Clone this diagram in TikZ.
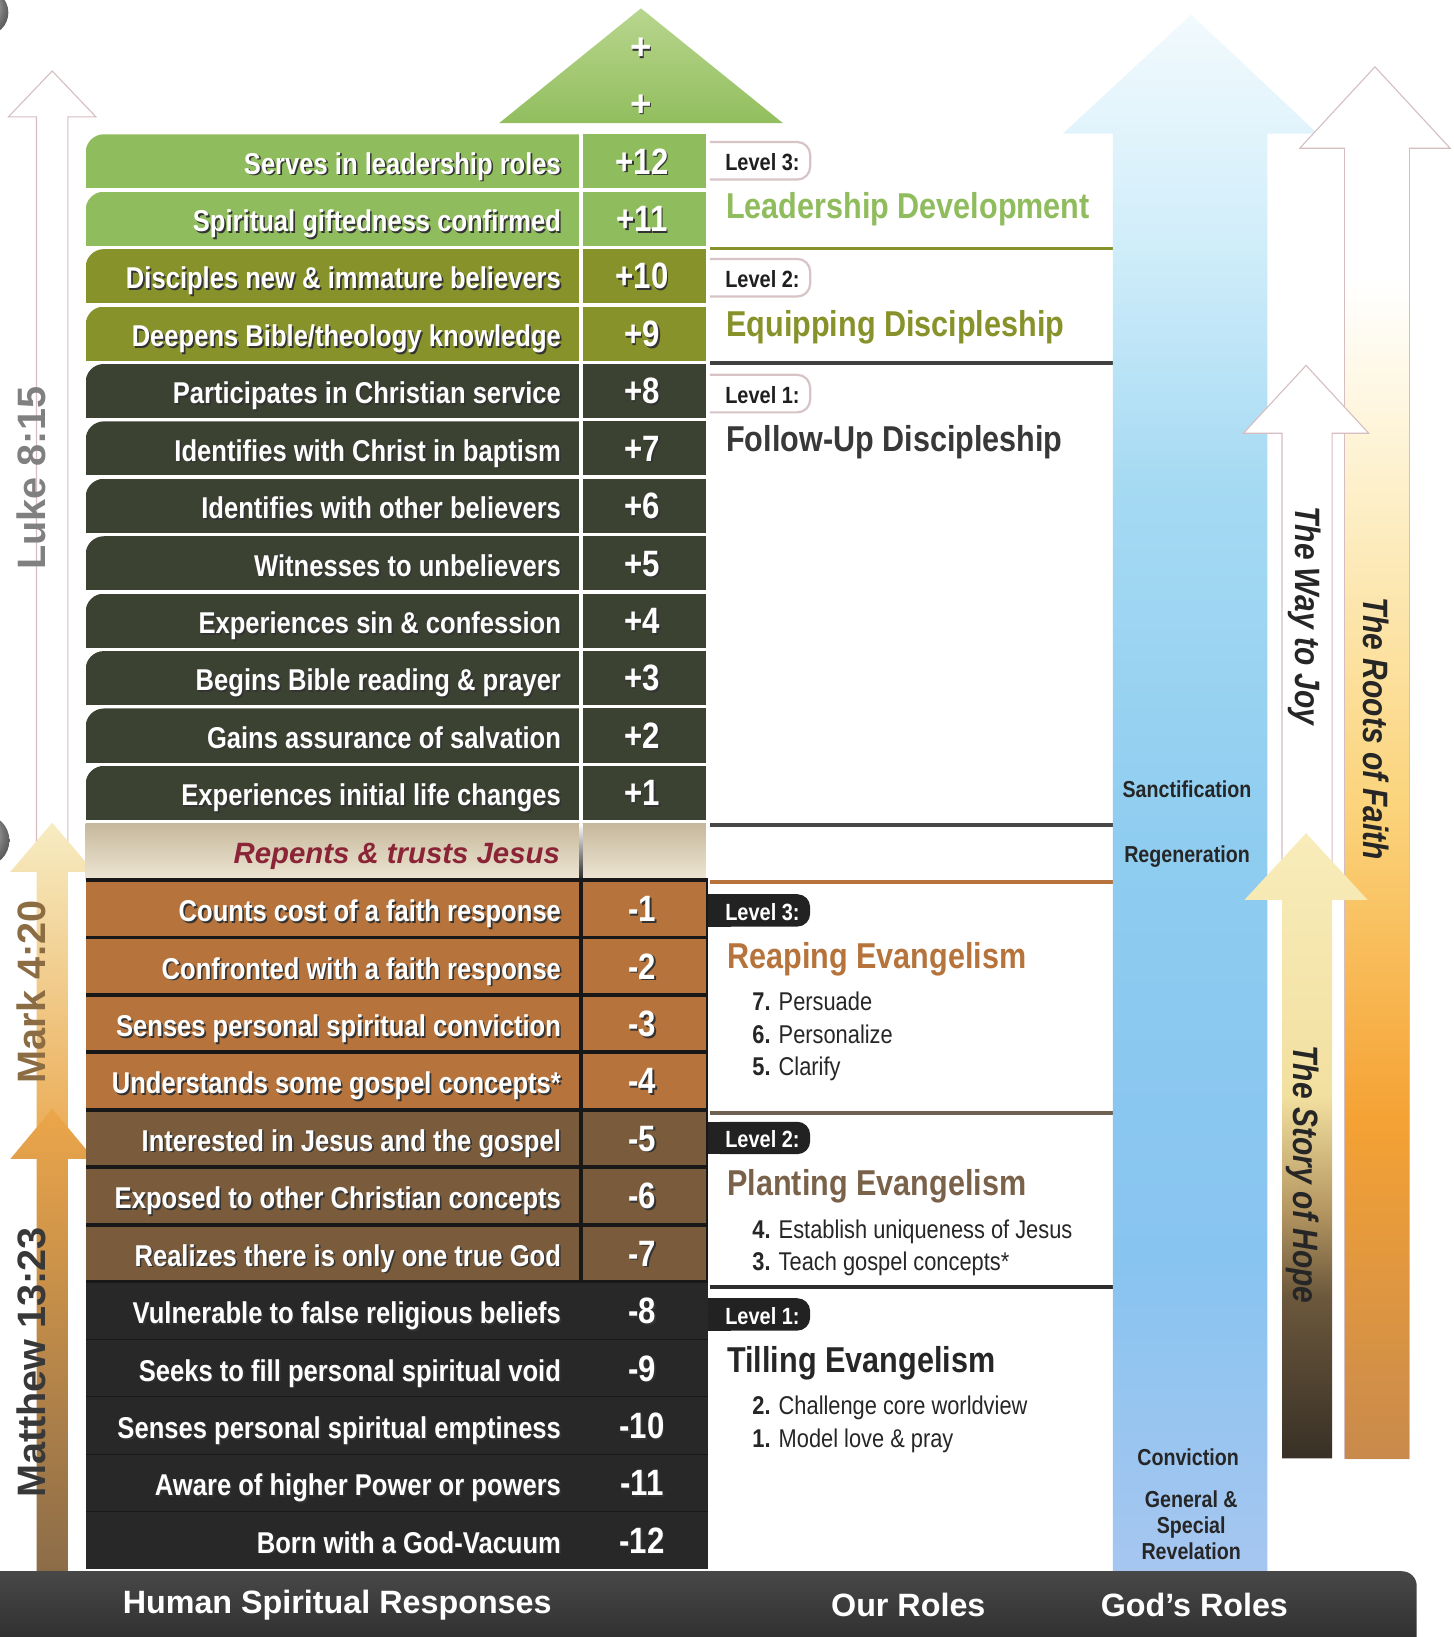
\documentclass[tikz,border=0pt]{standalone}
\usepackage{fontspec}
\setmainfont{Liberation Sans}
\newfontfamily\condfont{Liberation Sans}[FakeStretch=0.85]

\definecolor{lgreen}{RGB}{143,188,92}
\definecolor{olivec}{RGB}{136,146,42}
\definecolor{dgreen}{RGB}{60,66,50}
\definecolor{rust}{RGB}{182,116,60}
\definecolor{brownc}{RGB}{122,92,60}
\definecolor{charc}{RGB}{40,40,40}
\definecolor{sepblack}{RGB}{24,24,24}
\definecolor{repA}{RGB}{198,184,156}
\definecolor{repB}{RGB}{238,230,212}
\definecolor{repred}{RGB}{138,36,54}
\definecolor{plantc}{RGB}{122,98,74}
\definecolor{plantline}{RGB}{110,96,82}
\definecolor{markc}{RGB}{140,108,66}
\definecolor{tabdark}{RGB}{34,34,34}
\definecolor{tabline}{RGB}{216,196,198}
\definecolor{arrowline}{RGB}{214,190,192}
\definecolor{trA}{RGB}{184,214,142}
\definecolor{trB}{RGB}{146,190,94}
\definecolor{markA}{RGB}{247,236,194}
\definecolor{markB}{RGB}{234,168,80}
\definecolor{mattA}{RGB}{236,166,74}
\definecolor{mattB}{RGB}{140,108,72}
\definecolor{barA}{RGB}{72,72,72}
\definecolor{barB}{RGB}{30,30,30}
% God's roles column
\definecolor{blueT}{RGB}{242,250,253}
\definecolor{blueA}{RGB}{210,238,250}
\definecolor{blueB}{RGB}{166,218,243}
\definecolor{blueC}{RGB}{142,204,240}
\definecolor{blueD}{RGB}{136,196,240}
\definecolor{blueE}{RGB}{166,198,240}
% roots and hope arrows
\definecolor{rootsA}{RGB}{253,240,202}
\definecolor{rootsB}{RGB}{251,212,124}
\definecolor{rootsC}{RGB}{245,162,52}
\definecolor{rootsD}{RGB}{200,138,76}
\definecolor{hopeA}{RGB}{248,236,186}
\definecolor{hopeB}{RGB}{242,224,160}
\definecolor{hopeC}{RGB}{182,152,98}
\definecolor{hopeD}{RGB}{108,88,60}
\definecolor{hopeE}{RGB}{56,48,38}

\pgfdeclareverticalshading{blueshade}{100bp}{color(0bp)=(blueE); color(25bp)=(blueE);
  color(35bp)=(blueD); color(48bp)=(blueC); color(60bp)=(blueB); color(68bp)=(blueA);
  color(75bp)=(blueT); color(100bp)=(blueT)}
\pgfdeclareverticalshading{rootsshade}{100bp}{color(0bp)=(rootsD); color(25bp)=(rootsD);
  color(38bp)=(rootsC); color(50bp)=(rootsB); color(62bp)=(rootsA); color(70bp)=(white);
  color(100bp)=(white)}
\pgfdeclareverticalshading{hopeshade}{100bp}{color(0bp)=(hopeE); color(25bp)=(hopeE);
  color(38bp)=(hopeD); color(45bp)=(hopeC); color(54bp)=(hopeB); color(75bp)=(hopeA);
  color(100bp)=(hopeA)}

\newcommand{\shadowed}[1]{\makebox[0pt][l]{\hspace{0.45pt}\raisebox{-0.45pt}{\textcolor{black!80}{#1}}}#1}

\begin{document}
\begin{tikzpicture}[x=0.1mm,y=-0.1mm]
    \tikzset{
      rowtext/.style={anchor=mid east,inner sep=0pt,text=white,font=\condfont\bfseries\fontsize{8.2}{9}\selectfont},
      numtext/.style={anchor=mid,inner sep=0pt,text=white,font=\condfont\bfseries\fontsize{10}{11}\selectfont},
      leveltab/.style={anchor=mid west,inner sep=0pt,font=\condfont\bfseries\fontsize{6.4}{7}\selectfont},
      headline/.style={anchor=mid west,inner sep=0pt,font=\condfont\bfseries\fontsize{9.8}{11}\selectfont},
      steptext/.style={anchor=mid west,inner sep=0pt,text=black!85,font=\condfont\fontsize{7}{8}\selectfont},
      godtext/.style={inner sep=0pt,text=black!85,align=center,font=\condfont\bfseries\fontsize{6.3}{7.2}\selectfont},
      versetext/.style={rotate=90,inner sep=0pt,font=\bfseries\fontsize{10.8}{12}\selectfont},
      pathtext/.style={rotate=-90,inner sep=0pt,text=black!85,font=\condfont\bfseries\itshape\fontsize{9.6}{11}\selectfont},
      foottext/.style={inner sep=0pt,text=white,font=\bfseries\fontsize{8.8}{10}\selectfont},
      hollow/.style={fill=white,draw=arrowline,line width=0.3pt},
    }
    \useasboundingbox (0,0) rectangle (1392,1568);
    \fill[white] (0,0) rectangle (1392,1568);

    % punch holes
    \shade[ball color=black!12] (-14,12) circle (22);
    \shade[ball color=black!12] (-16,805) circle (25);

    % left verse arrows
    \draw[hollow] (35,835) -- (35,112) -- (8,112) -- (50,68) -- (92,112) -- (65,112) -- (65,835);
    \shade[top color=markA,bottom color=markB] (35,1110) -- (35,835) -- (10,835) -- (50,788)
      -- (90,835) -- (65,835) -- (65,1110) -- cycle;
    \shade[top color=mattA,bottom color=mattB] (35,1505) -- (35,1110) -- (10,1110) -- (50,1062)
      -- (90,1110) -- (65,1110) -- (65,1505) -- cycle;
    \node[versetext,text=black!50] (luke) at (30,458) {Luke 8:15};
    \node[versetext,text=markc] (mark) at (30,950) {Mark 4:20};
    \node[versetext,text=black!78] (matt) at (30,1305) {Matthew 13:23};

    % green roof
    \shade[top color=trA,bottom color=trB] (478,118) -- (614,8) -- (750,118) -- cycle;
    \node[numtext,font=\bfseries\fontsize{10}{11}\selectfont] (plusA) at (614,48) {\shadowed{+}};
    \node[numtext,font=\bfseries\fontsize{10}{11}\selectfont] (plusB) at (614,102) {\shadowed{+}};

    % positive responses
    \foreach \i/\lab/\num/\col in {0/{Serves in leadership roles}/+12/lgreen,
        1/{Spiritual giftedness confirmed}/+11/lgreen,
        2/{Disciples new \& immature believers}/+10/olivec,
        3/{Deepens Bible/theology knowledge}/+9/olivec,
        4/{Participates in Christian service}/+8/dgreen,
        5/{Identifies with Christ in baptism}/+7/dgreen,
        6/{Identifies with other believers}/+6/dgreen,
        7/{Witnesses to unbelievers}/+5/dgreen,
        8/{Experiences sin \& confession}/+4/dgreen,
        9/{Begins Bible reading \& prayer}/+3/dgreen,
        10/{Gains assurance of salvation}/+2/dgreen,
        11/{Experiences initial life changes}/+1/dgreen} {
      \pgfmathsetmacro\ya{127+\i*55+1.6}
      \pgfmathsetmacro\yb{127+(\i+1)*55-1.6}
      \pgfmathsetmacro\yc{130+(\i+0.5)*55}
      \begin{scope}
        \clip[rounded corners=5pt] (82,\ya) rectangle (900,1000);
        \fill[\col] (82,\ya) rectangle (555,\yb);
      \end{scope}
      \fill[\col] (558,\ya) rectangle (676,\yb);
      \node[rowtext] (resp\i) at (538,\yc) {\shadowed{\lab}};
      \node[numtext] (num\i) at (615,\yc) {\shadowed{\num}};
    }

    % turning point
    \shade[top color=repA,bottom color=repB] (82,788.6) rectangle (676,843);
    \shade[top color=white,bottom color=black!85] (555,788.6) rectangle (558,843);
    \node[anchor=mid east,inner sep=0pt,text=repred,font=\bfseries\itshape\fontsize{8}{9}\selectfont]
      (resp12) at (537,817.5) {Repents \& trusts Jesus};

    % negative responses
    \fill[sepblack] (82,841) rectangle (678,1503);
    \foreach \i/\lab/\num/\col in {13/{Counts cost of a faith response}/-1/rust,
        14/{Confronted with a faith response}/-2/rust,
        15/{Senses personal spiritual conviction}/-3/rust,
        16/{Understands some gospel concepts*}/-4/rust,
        17/{Interested in Jesus and the gospel}/-5/brownc,
        18/{Exposed to other Christian concepts}/-6/brownc,
        19/{Realizes there is only one true God}/-7/brownc} {
      \pgfmathsetmacro\ya{128+\i*55+1.8}
      \pgfmathsetmacro\yb{128+(\i+1)*55-1.8}
      \pgfmathsetmacro\yc{131+(\i+0.5)*55}
      \fill[\col] (82,\ya) rectangle (555,\yb);
      \fill[\col] (558.5,\ya) rectangle (676,\yb);
      \node[rowtext] (resp\i) at (538,\yc) {\shadowed{\lab}};
      \node[numtext] (num\i) at (615,\yc) {\shadowed{\num}};
    }
    \foreach \i/\lab/\num in {20/{Vulnerable to false religious beliefs}/-8,
        21/{Seeks to fill personal spiritual void}/-9,
        22/{Senses personal spiritual emptiness}/-10,
        23/{Aware of higher Power or powers}/-11,
        24/{Born with a God-Vacuum}/-12} {
      \pgfmathsetmacro\ya{128+\i*55+0.5}
      \pgfmathsetmacro\yb{128+(\i+1)*55-0.5}
      \pgfmathsetmacro\yc{131+(\i+0.5)*55}
      \fill[charc] (82,\ya) rectangle (678,\yb);
      \node[rowtext] (resp\i) at (538,\yc) {\shadowed{\lab}};
      \node[numtext] (num\i) at (615,\yc) {\shadowed{\num}};
    }

    % our roles: rules between stages
    \draw[line width=1pt,olivec] (680,238) -- (1068,238);
    \draw[line width=1pt,black!75] (680,348) -- (1068,348);
    \draw[line width=1pt,black!72] (680,790) -- (1068,790);
    \draw[line width=1pt,rust] (680,845) -- (1068,845);
    \draw[line width=1pt,plantline] (680,1066) -- (1068,1066);
    \draw[line width=1pt,black!82] (680,1233) -- (1068,1233);

    % discipleship tabs
    \foreach \y/\n in {154/3,266/2,377/1} {
      \draw[tabline,line width=0.6pt,rounded corners=3.5pt] (680,\y-18) -- (776,\y-18) -- (776,\y+18) -- (680,\y+18);
      \node[leveltab,text=black!88] (disc\n) at (694,\y) {Level \n:};
    }
    % evangelism tabs
    \foreach \y/\n in {872/3,1090/2,1259/1} {
      \fill[tabdark,rounded corners=3.5pt] (678,\y-15.5) -- (776,\y-15.5) -- (776,\y+15.5) -- (678,\y+15.5) -- cycle;
      \fill[tabdark] (678,\y-15.5) rectangle (700,\y+15.5);
      \node[leveltab,text=white] (evan\n) at (694,\y) {Level \n:};
    }

    \node[headline,text=lgreen] (lead) at (695,200) {Leadership Development};
    \node[headline,text=olivec] (equip) at (695,313) {Equipping Discipleship};
    \node[headline,text=black!78] (follow) at (695,423) {Follow-Up Discipleship};
    \node[headline,text=rust] (reap) at (696,918) {Reaping Evangelism};
    \node[headline,text=plantc] (plant) at (696,1136) {Planting Evangelism};
    \node[headline,text=black!85] (till) at (696,1305) {Tilling Evangelism};

    \node[steptext] (st7) at (720,959) {\textbf{7.} Persuade};
    \node[steptext] (st6) at (720,990) {\textbf{6.} Personalize};
    \node[steptext] (st5) at (720,1021) {\textbf{5.} Clarify};
    \node[steptext] (st4) at (720,1177) {\textbf{4.} Establish uniqueness of Jesus};
    \node[steptext] (st3) at (720,1208) {\textbf{3.} Teach gospel concepts*};
    \node[steptext] (st2) at (720,1346) {\textbf{2.} Challenge core worldview};
    \node[steptext] (st1) at (720,1377) {\textbf{1.} Model love \& pray};

    % God's roles
    \shade[shading=blueshade] (1066,1505) -- (1066,128) -- (1018,128) -- (1141,14) -- (1262,128)
      -- (1214,128) -- (1214,1505) -- cycle;
    \node[godtext] (sanct) at (1137,756) {Sanctification};
    \node[godtext] (regen) at (1137,820) {Regeneration};
    \node[godtext] (convic) at (1138,1396) {Conviction};
    \node[godtext] (revel) at (1141,1461) {General \&\\Special\\Revelation};

    % right arrows
    \draw[hollow] (1288,1397) -- (1288,142) -- (1245,142) -- (1317,64) -- (1389,142) -- (1350,142)
      -- (1350,1397) -- cycle;
    \shade[shading=rootsshade] (1288.6,142) rectangle (1349.4,1397);
    \draw[hollow] (1228,862) -- (1228,415) -- (1191,415) -- (1251,350) -- (1311,415) -- (1276,415)
      -- (1276,862);
    \shade[shading=hopeshade] (1228,1397) -- (1228,862) -- (1192,862) -- (1251,798) -- (1310,862)
      -- (1276,862) -- (1276,1397) -- cycle;
    \node[pathtext] (joy) at (1250,590) {The Way to Joy};
    \node[pathtext] (faith) at (1318,698) {The Roots of Faith};
    \node[pathtext] (hope) at (1248,1125) {The Story of Hope};

    % footer bar
    \shade[top color=barA,bottom color=barB,rounded corners=4pt] (-30,1505) rectangle (1357,1620);
    \node[foottext] (fhuman) at (323,1537) {Human Spiritual Responses};
    \node[foottext] (fours) at (870,1537) {Our Roles};
    \node[foottext] (fgods) at (1144,1537) {God’s Roles};
\end{tikzpicture}
\end{document}
